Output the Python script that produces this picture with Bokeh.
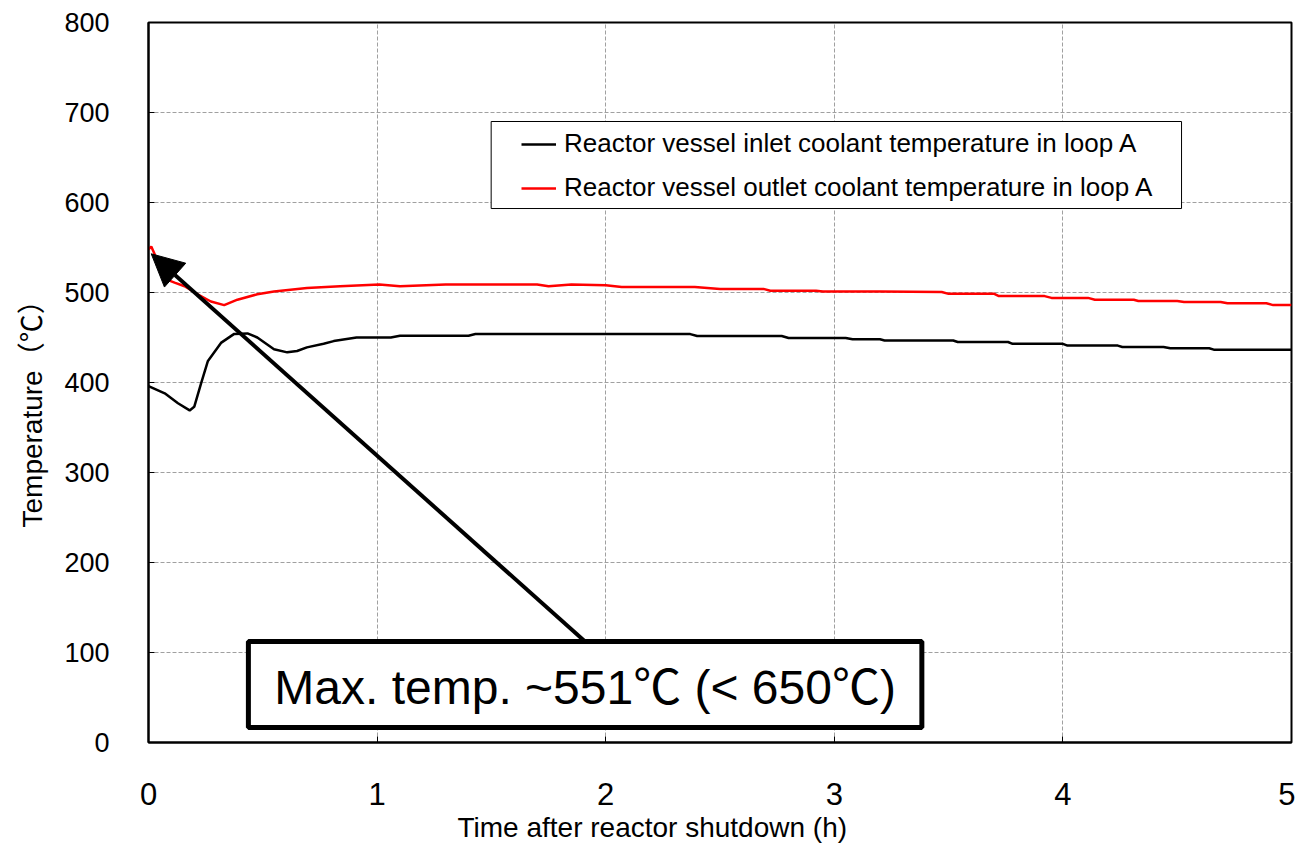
from bokeh.plotting import figure
from bokeh.models import (Legend, LegendItem, Arrow, NormalHead, BoxAnnotation,
                          Label, FixedTicker, Range1d, Title)
from bokeh.embed import file_html
from bokeh.resources import INLINE

# ---- data ----
outlet_t = [0, 0.012, 0.035, 0.064, 0.114, 0.158, 0.215, 0.273, 0.331, 0.389, 0.476,
            0.549, 0.693, 0.838, 1.01, 1.1, 1.3, 1.5, 1.7, 1.75, 1.85, 2.0, 2.07, 2.39,
            2.5, 2.69, 2.72, 2.92, 2.95, 3.2, 3.47, 3.5, 3.7, 3.72, 3.92, 3.95, 4.11,
            4.14, 4.31, 4.33, 4.5, 4.53, 4.69, 4.72, 4.89, 4.92, 5.0]
outlet_T = [548, 551, 538, 516, 511, 507, 498, 490, 486, 492, 498,
            501, 505, 507, 509, 507, 509, 509, 509, 507, 509, 508, 506, 506,
            504, 504, 502, 502, 501, 501, 500.5, 498.5, 498.5, 496, 496, 494, 494,
            492, 492, 490.5, 490.5, 489.5, 489.5, 488, 488, 486, 486]

inlet_t = [0, 0.071, 0.129, 0.18, 0.2, 0.23, 0.26, 0.317, 0.375, 0.433, 0.476, 0.549,
           0.607, 0.65, 0.693, 0.766, 0.81, 0.91, 1.06, 1.1, 1.4, 1.43, 2.37, 2.4,
           2.77, 2.8, 3.05, 3.08, 3.2, 3.22, 3.52, 3.54, 3.76, 3.78, 4.0, 4.02, 4.24,
           4.26, 4.44, 4.47, 4.64, 4.66, 5.0]
inlet_T = [396, 388, 377, 369, 373, 399, 424, 444, 454, 454.5, 450, 437,
           433.5, 435, 439, 443, 446, 450, 450, 452, 452, 453.8, 453.8, 451.6,
           451.6, 449.4, 449.4, 448, 448, 446.7, 446.7, 445, 445, 443, 443, 441, 441,
           439.4, 439.4, 438, 438, 436.5, 436.5]

x_ticks = [0, 1, 2, 3, 4, 5]
y_ticks = [0, 100, 200, 300, 400, 500, 600, 700, 800]

labels = ["Reactor vessel inlet coolant temperature in loop A",
          "Reactor vessel outlet coolant temperature in loop A"]
note = "Max. temp. ~551℃ (< 650℃)"
x_title = "Time after reactor shutdown (h)"
y_title = "Temperature（℃）"

FONT = "'Liberation Sans', 'Noto Sans CJK JP', sans-serif"

p = figure(width=1295, height=846, x_range=Range1d(0, 5), y_range=Range1d(0, 800),
           output_backend="svg", toolbar_location=None,
           min_border_left=147, min_border_right=4, min_border_top=22,
           min_border_bottom=104)
p.background_fill_color = "white"
p.border_fill_color = "white"
p.outline_line_color = "black"
p.outline_line_width = 2

for ax in (p.xaxis[0], p.yaxis[0]):
    ax.axis_line_color = "black"
    ax.axis_line_width = 2
    ax.major_tick_in = 6
    ax.major_tick_out = 0
    ax.minor_tick_in = 0
    ax.minor_tick_out = 0
    ax.major_tick_line_color = "black"
    ax.major_tick_line_width = 1
    ax.major_label_text_color = "black"

p.xaxis.ticker = FixedTicker(ticks=x_ticks)
p.yaxis.ticker = FixedTicker(ticks=y_ticks)
p.xaxis.major_label_text_font = FONT
p.xaxis.major_label_text_font_size = "31px"
p.xaxis.major_label_standoff = 40
p.yaxis.major_label_text_font = FONT
p.yaxis.major_label_text_font_size = "27px"
p.yaxis.major_label_standoff = 39

for g in (p.xgrid[0], p.ygrid[0]):
    g.grid_line_color = "#a0a0a0"
    g.grid_line_dash = "4 2"
    g.grid_line_width = 1

r_in = p.line(inlet_t, inlet_T, line_color="black", line_width=2.5)
r_out = p.line(outlet_t, outlet_T, line_color="#ff0000", line_width=2.5)

# legend frame
p.add_layout(BoxAnnotation(left=1.499, right=4.519, bottom=593.3, top=690,
                           fill_color="white", fill_alpha=1, line_color="black",
                           line_alpha=1, line_width=1, level="overlay"))
legend = Legend(items=[LegendItem(label=labels[0], renderers=[r_in]),
                       LegendItem(label=labels[1], renderers=[r_out])],
                location=(365, 531), border_line_alpha=0, background_fill_alpha=0,
                padding=8, spacing=13, glyph_width=35, glyph_height=20,
                label_standoff=8, label_text_font=FONT,
                label_text_font_size="26px", label_text_color="black",
                margin=0)
p.add_layout(legend, "center")

# annotation arrow and box
p.add_layout(Arrow(end=NormalHead(size=32, fill_color="black", line_color="black"),
                   x_start=1.906, y_start=113, x_end=0.012, y_end=543,
                   line_color="black", line_width=4))
p.add_layout(BoxAnnotation(left=0.437, right=3.383, bottom=16.7, top=112.2,
                           fill_color="white", fill_alpha=1, line_color="black",
                           line_alpha=1, line_width=5))
p.add_layout(Label(x=1.91, y=61, text=note, text_font=FONT, text_font_size="48px",
                   text_align="center", text_baseline="middle", text_color="black"))

# axis titles
p.add_layout(Title(text=x_title, align="left", offset=309, text_font=FONT,
                   text_font_size="28px", text_font_style="normal",
                   text_color="black", standoff=4), "below")
p.add_layout(Title(text=y_title, align="left", offset=215, text_font=FONT,
                   text_font_size="28px", text_font_style="normal",
                   text_color="black", standoff=28), "left")

open("out.html", "w").write(file_html(p, INLINE))
